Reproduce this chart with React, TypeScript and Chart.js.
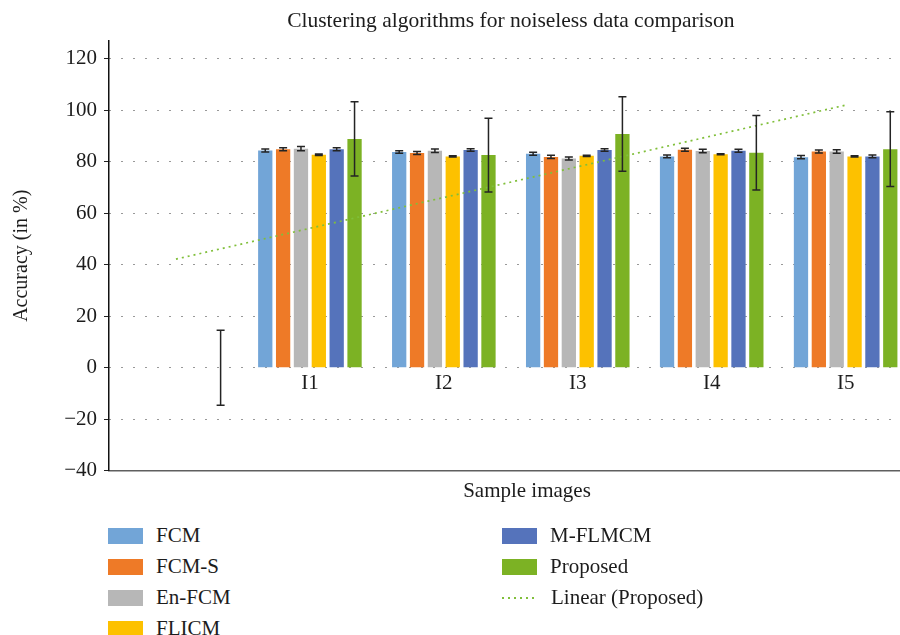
import React, { useEffect, useRef } from "react";
import { Chart, registerables } from "chart.js";

Chart.register(...registerables);

// ---------- data ----------
const categories = ["", "I1", "I2", "I3", "I4", "I5"];
const yTicks = [-40, -20, 0, 20, 40, 60, 80, 100, 120];

const fcm = [null, 84.4, 83.8, 83.1, 82.1, 81.8];
const fcmErr = [null, 0.6, 0.5, 0.6, 0.5, 0.6];
const fcmS = [null, 84.9, 83.4, 81.9, 84.7, 84.0];
const fcmSErr = [null, 0.6, 0.6, 0.6, 0.6, 0.6];
const enFcm = [null, 85.1, 84.3, 81.3, 84.2, 84.0];
const enFcmErr = [null, 0.8, 0.7, 0.6, 0.7, 0.7];
const flicm = [null, 82.7, 82.1, 82.3, 82.9, 82.1];
const flicmErr = [null, 0.3, 0.2, 0.2, 0.2, 0.2];
const mFlmcm = [null, 84.9, 84.6, 84.6, 84.3, 82.1];
const mFlmcmErr = [null, 0.6, 0.5, 0.5, 0.6, 0.5];
const proposed = [0, 88.9, 82.6, 90.8, 83.5, 84.9];
const proposedErr = [14.6, 14.4, 14.3, 14.5, 14.5, 14.5];
// Linear trendline of "Proposed" (ends only)
const trendProposed = [42.2, null, null, null, null, 102.0];

const seriesNames = ["FCM", "FCM-S", "En-FCM", "FLICM", "M-FLMCM", "Proposed"];
const trendName = "Linear (Proposed)";
const chartTitle = "Clustering algorithms for noiseless data comparison";
const xTitle = "Sample images";
const yTitle = "Accuracy (in %)";

const seriesColors = ["#72a5d7", "#ee7a27", "#b7b7b7", "#fdc100", "#5573bb", "#7cb224"];
const trendColor = "#80bf3a";
const seriesValues = [fcm, fcmS, enFcm, flicm, mFlmcm, proposed];
const seriesErrors = [fcmErr, fcmSErr, enFcmErr, flicmErr, mFlmcmErr, proposedErr];

const FONT_FAMILY = "'Liberation Serif', 'Times New Roman', serif";
const TEXT_COLOR = "#1c1c1c";

const errorBarPlugin = {
  id: "errorBars",
  afterDatasetsDraw(chart: any) {
    const ctx = chart.ctx;
    const yScale = chart.scales.y;
    ctx.save();
    ctx.strokeStyle = "#242424";
    ctx.lineWidth = 1.5;
    chart.data.datasets.forEach((ds: any, i: number) => {
      const errs = ds.errors;
      if (!errs) return;
      const meta = chart.getDatasetMeta(i);
      meta.data.forEach((el: any, j: number) => {
        const v = ds.data[j];
        const e = errs[j];
        if (v == null || e == null) return;
        const x = el.x;
        const yt = yScale.getPixelForValue(v + e);
        const yb = yScale.getPixelForValue(v - e);
        ctx.beginPath();
        ctx.moveTo(x, yt);
        ctx.lineTo(x, yb);
        ctx.moveTo(x - 4, yt);
        ctx.lineTo(x + 4, yt);
        ctx.moveTo(x - 4, yb);
        ctx.lineTo(x + 4, yb);
        ctx.stroke();
      });
    });
    ctx.restore();
  },
};

const CANVAS_W = 1000;
const CANVAS_H = 510;

export default function App() {
  const ref = useRef<HTMLCanvasElement | null>(null);

  useEffect(() => {
    if (!ref.current) return;
    const font = { family: FONT_FAMILY, size: 21 };
    const datasets: any[] = seriesNames.map((name, i) => ({
      type: "bar",
      label: name,
      data: seriesValues[i],
      errors: seriesErrors[i],
      backgroundColor: seriesColors[i],
      borderWidth: 0,
      categoryPercentage: 0.8,
      barPercentage: 0.8,
      order: 1,
    }));
    datasets.push({
      type: "line",
      label: trendName,
      data: trendProposed,
      borderColor: trendColor,
      borderWidth: 1.7,
      borderDash: [2, 4],
      pointRadius: 0,
      spanGaps: true,
      fill: false,
      order: 0,
    });

    const chart = new Chart(ref.current, {
      type: "bar",
      data: { labels: categories, datasets },
      plugins: [errorBarPlugin],
      options: {
        animation: false,
        responsive: false,
        devicePixelRatio: 1,
        layout: { padding: { left: 0, right: CANVAS_W - 912.6, top: 0, bottom: 0 } },
        plugins: {
          legend: { display: false },
          tooltip: { enabled: false },
          title: {
            display: true,
            text: chartTitle,
            font: { family: FONT_FAMILY, size: 21.5, weight: "normal" },
            color: TEXT_COLOR,
            fullSize: false,
            padding: { top: 8, bottom: 7 },
          },
        },
        scales: {
          x: {
            type: "category",
            position: "bottom",
            offset: true,
            grid: { display: false, drawTicks: false },
            ticks: { display: false },
            border: { display: true, color: "#5f5f5f", width: 1.5 },
            afterFit: (s: any) => {
              s.height = CANVAS_H - 470.7;
            },
          },
          xl: {
            type: "category",
            position: { y: 0 },
            offset: true,
            grid: { display: false, drawTicks: false },
            border: { display: false },
            ticks: { font, color: TEXT_COLOR, padding: 3, maxRotation: 0 },
            afterFit: (s: any) => {
              s.height = 0;
            },
          },
          y: {
            type: "linear",
            min: -40,
            max: 127,
            afterBuildTicks: (s: any) => {
              s.ticks = yTicks.map((v) => ({ value: v }));
            },
            afterFit: (s: any) => {
              s.width = 109;
            },
            grid: {
              color: "#333333",
              lineWidth: 1,
              drawTicks: true,
              tickLength: 5,
              tickColor: "#222",
              tickWidth: 1,
              tickBorderDash: [],
            },
            border: { display: true, color: "#111", width: 1.5, dash: [1, 11] },
            ticks: {
              font,
              color: TEXT_COLOR,
              padding: 7,
              callback: (v: any) => (Number(v) < 0 ? "\u2212" + Math.abs(Number(v)) : String(v)),
            },
            title: {
              display: true,
              text: yTitle,
              font: { family: FONT_FAMILY, size: 20 },
              color: TEXT_COLOR,
              padding: { top: 10, bottom: 0 },
            },
          },
        },
      } as any,
    });
    return () => chart.destroy();
  }, []);

  const legendLeft = [0, 1, 2, 3];
  const legendRight = [4, 5, 6];
  const rowY = (r: number) => 535.7 + r * 31;

  const item = (idx: number, left: number, r: number) => {
    const isTrend = idx === 6;
    const label = isTrend ? trendName : seriesNames[idx];
    return (
      <div
        key={label}
        style={{
          position: "absolute",
          left,
          top: rowY(r) - 13,
          height: 26,
          display: "flex",
          alignItems: "center",
          fontFamily: FONT_FAMILY,
          fontSize: 21,
          color: TEXT_COLOR,
          whiteSpace: "nowrap",
        }}
      >
        {isTrend ? (
          <div
            style={{
              width: 35,
              height: 2,
              marginRight: 14,
              backgroundImage: `repeating-linear-gradient(to right, ${trendColor} 0px, ${trendColor} 2px, transparent 2px, transparent 6px)`,
            }}
          />
        ) : (
          <div style={{ width: 35, height: 16, background: seriesColors[idx], marginRight: 13 }} />
        )}
        <span>{label}</span>
      </div>
    );
  };

  return (
    <div
      style={{
        position: "fixed",
        left: 0,
        top: 0,
        width: 900,
        height: 635,
        overflow: "hidden",
        background: "#fff",
      }}
    >
      <canvas
        ref={ref}
        width={CANVAS_W}
        height={CANVAS_H}
        style={{ position: "absolute", left: 0, top: 0, width: CANVAS_W, height: CANVAS_H }}
      />
      <div
        style={{
          position: "absolute",
          left: 527 - 100,
          width: 200,
          top: 490 - 13,
          height: 26,
          lineHeight: "26px",
          textAlign: "center",
          fontFamily: FONT_FAMILY,
          fontSize: 21,
          color: TEXT_COLOR,
          whiteSpace: "nowrap",
        }}
      >
        {xTitle}
      </div>
      {legendLeft.map((idx, r) => item(idx, 108, r))}
      {legendRight.map((idx, r) => item(idx, 502, r))}
    </div>
  );
}
